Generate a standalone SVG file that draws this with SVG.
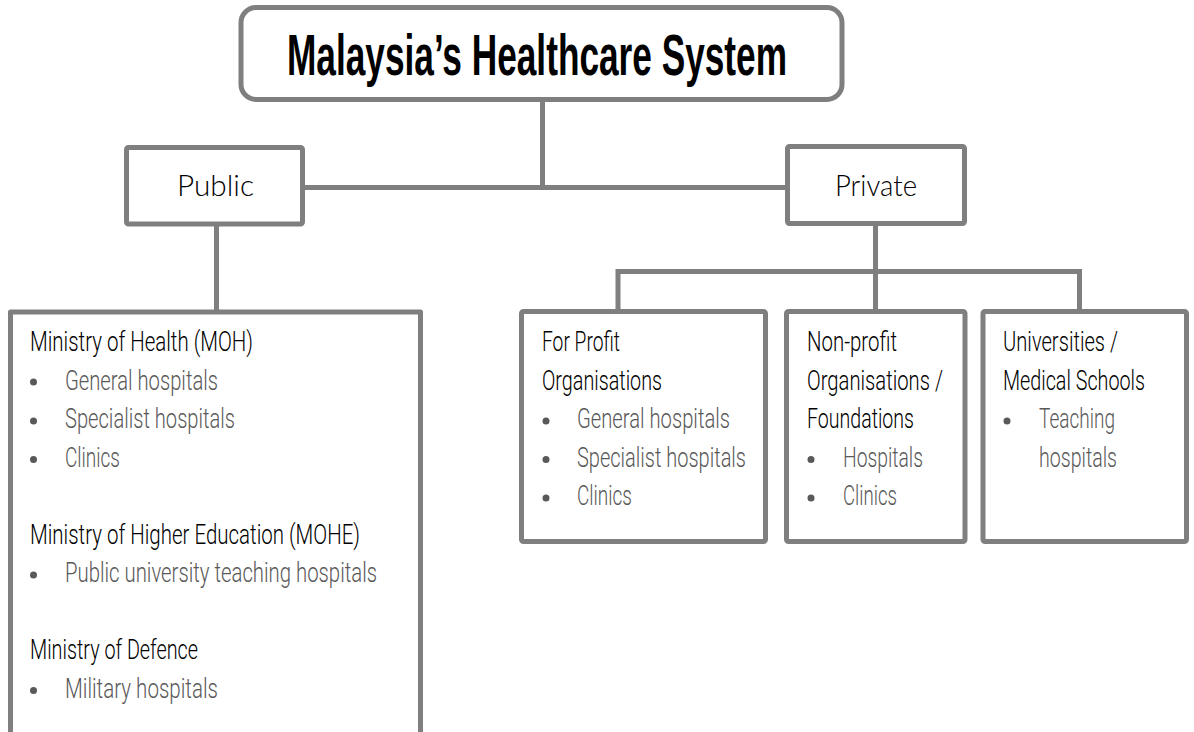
<svg xmlns="http://www.w3.org/2000/svg" width="1194" height="732" viewBox="0 0 1194 732">
<style>
.box{fill:#fff;stroke:#7f7f7f;stroke-width:5;stroke-linejoin:round}
.ln{fill:none;stroke:#7f7f7f;stroke-width:5}
.title{font-family:"Liberation Sans",Arial,sans-serif;font-weight:bold;font-size:58px;fill:#000}
.lvl{font-family:"Lato","Open Sans","Liberation Sans",sans-serif;font-weight:300;font-size:30px;fill:#000;text-anchor:middle}
.h{font-family:"Roboto","Liberation Sans",sans-serif;font-weight:300;font-size:28px;fill:#000}
.it{font-family:"Roboto","Liberation Sans",sans-serif;font-weight:300;font-size:28px;fill:#595959}
.b{fill:#595959}
</style>
<g id="connectors">
<path class="ln" d="M542.5,99.5 V187.5"/>
<path class="ln" d="M302.5,187.5 H787.5"/>
<path class="ln" d="M216.5,224 V312"/>
<path class="ln" d="M875.5,223.5 V271.5"/>
<path class="ln" d="M618,311.5 V271.5 H1079.5 V311.5"/>
<path class="ln" d="M875.5,271.5 V311.5"/>
</g>
<g id="title">
<rect class="box" x="241" y="7.5" width="601" height="92" rx="15"/>
<text class="title" x="287" y="75" textLength="500" lengthAdjust="spacingAndGlyphs">Malaysia’s Healthcare System</text>
</g>
<g id="public">
<rect class="box" x="126.5" y="147.5" width="176" height="76.5" rx="2"/>
<text class="lvl" x="215.5" y="196" textLength="77" lengthAdjust="spacingAndGlyphs">Public</text>
</g>
<g id="private">
<rect class="box" x="787.5" y="146.5" width="177" height="77" rx="2"/>
<text class="lvl" x="876" y="196" textLength="82" lengthAdjust="spacingAndGlyphs">Private</text>
</g>
<g id="public-detail">
<path class="box" d="M10.5,745 V312 H420.5 V745"/>
<text class="h" x="30" y="351" textLength="223" lengthAdjust="spacingAndGlyphs">Ministry of Health (MOH)</text>
<circle class="b" cx="33.5" cy="382" r="3.5"/>
<text class="it" x="65" y="389.5" textLength="153" lengthAdjust="spacingAndGlyphs">General hospitals</text>
<circle class="b" cx="33.5" cy="421" r="3.5"/>
<text class="it" x="65" y="428" textLength="170" lengthAdjust="spacingAndGlyphs">Specialist hospitals</text>
<circle class="b" cx="33.5" cy="459.5" r="3.5"/>
<text class="it" x="65" y="466.5" textLength="55" lengthAdjust="spacingAndGlyphs">Clinics</text>
<text class="h" x="30" y="543.5" textLength="330" lengthAdjust="spacingAndGlyphs">Ministry of Higher Education (MOHE)</text>
<circle class="b" cx="33.5" cy="575" r="3.5"/>
<text class="it" x="65" y="582" textLength="312" lengthAdjust="spacingAndGlyphs">Public university teaching hospitals</text>
<text class="h" x="30" y="659" textLength="168" lengthAdjust="spacingAndGlyphs">Ministry of Defence</text>
<circle class="b" cx="33.5" cy="690.5" r="3.5"/>
<text class="it" x="65" y="697.5" textLength="153" lengthAdjust="spacingAndGlyphs">Military hospitals</text>
</g>
<g id="for-profit">
<rect class="box" x="521.5" y="311.5" width="244" height="230" rx="2"/>
<text class="h" x="542" y="351" textLength="78" lengthAdjust="spacingAndGlyphs">For Profit</text>
<text class="h" x="542" y="389.5" textLength="120" lengthAdjust="spacingAndGlyphs">Organisations</text>
<circle class="b" cx="546" cy="421" r="3.5"/>
<text class="it" x="577" y="428" textLength="153" lengthAdjust="spacingAndGlyphs">General hospitals</text>
<circle class="b" cx="546" cy="459.5" r="3.5"/>
<text class="it" x="577" y="466.5" textLength="169" lengthAdjust="spacingAndGlyphs">Specialist hospitals</text>
<circle class="b" cx="546" cy="498" r="3.5"/>
<text class="it" x="577" y="505" textLength="55" lengthAdjust="spacingAndGlyphs">Clinics</text>
</g>
<g id="non-profit">
<rect class="box" x="786.5" y="311.5" width="178.5" height="230" rx="2"/>
<text class="h" x="807" y="351" textLength="90" lengthAdjust="spacingAndGlyphs">Non-profit</text>
<text class="h" x="807" y="389.5" textLength="136" lengthAdjust="spacingAndGlyphs">Organisations /</text>
<text class="h" x="807" y="428" textLength="107" lengthAdjust="spacingAndGlyphs">Foundations</text>
<circle class="b" cx="811" cy="459.5" r="3.5"/>
<text class="it" x="843" y="466.5" textLength="80" lengthAdjust="spacingAndGlyphs">Hospitals</text>
<circle class="b" cx="811" cy="498" r="3.5"/>
<text class="it" x="843" y="505" textLength="54" lengthAdjust="spacingAndGlyphs">Clinics</text>
</g>
<g id="universities">
<rect class="box" x="983" y="311.5" width="203.5" height="230" rx="2"/>
<text class="h" x="1003" y="351" textLength="115" lengthAdjust="spacingAndGlyphs">Universities /</text>
<text class="h" x="1003" y="389.5" textLength="142" lengthAdjust="spacingAndGlyphs">Medical Schools</text>
<circle class="b" cx="1007" cy="421" r="3.5"/>
<text class="it" x="1039" y="428" textLength="76" lengthAdjust="spacingAndGlyphs">Teaching</text>
<text class="it" x="1039" y="466.5" textLength="78" lengthAdjust="spacingAndGlyphs">hospitals</text>
</g>
</svg>
